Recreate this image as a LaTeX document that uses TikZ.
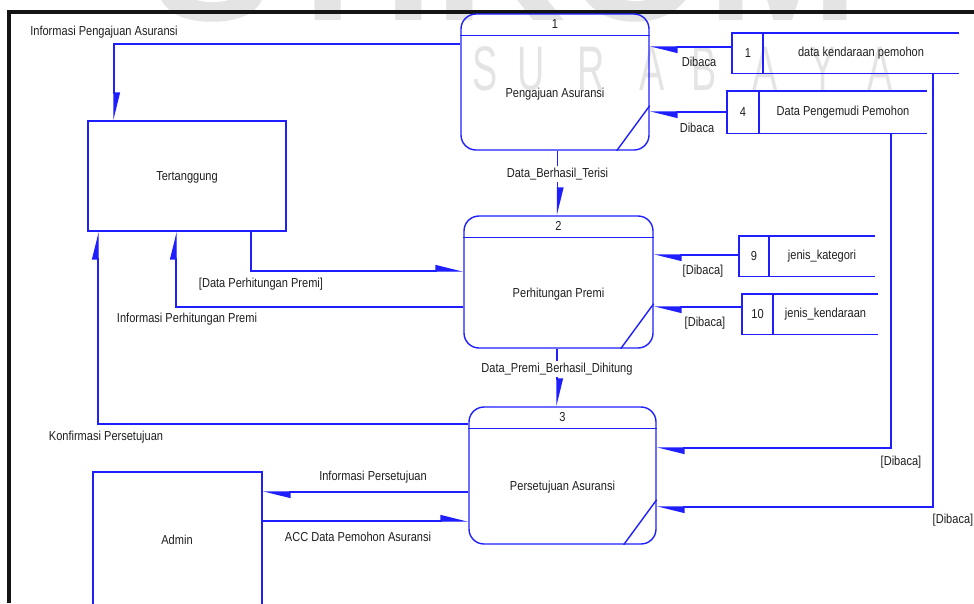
\documentclass[tikz,border=0pt]{standalone}
\usepackage{fontspec}
\setmainfont{Liberation Sans}[FakeStretch=0.85]
\newfontfamily\wmfont{Liberation Sans}
\newfontfamily\wmthin{Liberation Sans}[FakeStretch=0.6]
\usetikzlibrary{arrows.meta,calc}

\definecolor{dfdblue}{RGB}{30,30,255}
\definecolor{inktext}{RGB}{30,30,30}
\definecolor{wmgray}{RGB}{228,228,228}

\tikzset{
  edge/.style={draw=dfdblue, line width=1.4pt},
  flow/.style={edge, -{Triangle[harpoon, length=25pt, width=12pt]}},
  proc/.style={edge, rounded corners=15pt, inner sep=0pt},
  entity/.style={edge, inner sep=0pt},
  storebox/.style={inner sep=0pt},
  txt/.style={text=inktext, font=\fontsize{13}{15}\selectfont, inner sep=1pt},
  cut/.style={txt, fill=white, inner sep=2pt},
  wm/.style={text=wmgray, inner sep=0pt},
}

\begin{document}
\begin{tikzpicture}[x=1pt, y=-1pt]
\useasboundingbox (0,0) rectangle (974,603);

% watermark lettering in the background
\begin{scope}
  \clip (0,0) rectangle (974,603);
  \node[wm, anchor=base, font=\wmfont\bfseries\fontsize{182}{182}\selectfont] (wmtop) at (505,20) {STIKOM};
  \foreach \ch/\cx [count=\i] in {S/485, U/531, R/591, A/652, B/704, A/765, Y/823, A/880}
    \node[wm, anchor=base, font=\wmthin\fontsize{63}{63}\selectfont] (wm\i) at (\cx,90) {\ch};
\end{scope}

% frame
\draw[line width=4pt, black!92] (9,603) -- (9,12) -- (974,12);

% processes
\node[proc, minimum width=188pt, minimum height=136pt] (p1) at (555,82) {};
\node[proc, minimum width=189pt, minimum height=132pt] (p2) at (558.5,282) {};
\node[proc, minimum width=187pt, minimum height=137pt] (p3) at (562.5,475.5) {};
\foreach \p/\n/\t in {p1/1/Pengajuan Asuransi, p2/2/Perhitungan Premi, p3/3/Persetujuan Asuransi}{
  \draw[edge] ($(\p.north west)+(0,22)$) -- ($(\p.north east)+(0,22)$);
  \draw[edge] ($(\p.south east)+(-33,0)$) -- ($(\p.south east)+(0,-45)$);
  \node[txt] (\p num) at ($(\p.north)+(0,11)$) {\n};
  \node[txt] (\p name) at ($(\p.center)+(0,12)$) {\t};
}

% external entities
\node[entity, minimum width=198pt, minimum height=110pt] (tt) at (187,176) {};
\node[txt] (ttname) at (187,177) {Tertanggung};
\node[entity, minimum width=169pt, minimum height=136pt] (ad) at (177.5,540) {};
\node[txt] (adname) at (177,540) {Admin};

% data stores
\node[storebox, minimum width=227pt, minimum height=40pt] (s1) at (845.5,53) {};
\node[storebox, minimum width=200pt, minimum height=42pt] (s4) at (827,112) {};
\node[storebox, minimum width=136pt, minimum height=40pt] (s9) at (807,256) {};
\node[storebox, minimum width=136pt, minimum height=40pt] (s10) at (810,314) {};
\foreach \s/\d in {s1/763, s4/759, s9/769, s10/773}{
  \draw[edge] (\s.north east) -- (\s.north west) -- (\s.south west) -- (\s.south east);
  \draw[edge] (\s.north -| \d,0) -- (\s.south -| \d,0);
}
\node[txt] (s1num) at (748,53) {1};
\node[txt] (s1name) at (861,53) {data kendaraan pemohon};
\node[txt] (s4num) at (743,112) {4};
\node[txt] (s4name) at (843,112) {Data Pengemudi Pemohon};
\node[txt] (s9num) at (754,256) {9};
\node[txt] (s9name) at (822,256) {jenis\_kategori};
\node[txt] (s10num) at (757.5,314) {10};
\node[txt] (s10name) at (825.5,314) {jenis\_kendaraan};

% data flows
\draw[flow] (p1.west |- 0,44) -| (tt.north -| 114,0);
\draw[flow] (tt.south -| 251,0) |- (p2.west |- 0,271);
\draw[flow] (p2.west |- 0,307) -| (tt.south -| 176,0);
\draw[flow] (p3.west |- 0,424) -| (tt.south -| 98,0);
\draw[flow] (p3.west |- 0,492) -- (ad.east |- 0,492);
\draw[flow] (ad.east |- 0,521) -- (p3.west |- 0,521);
\draw[flow] (s1.west |- 0,47) -- (p1.east |- 0,47);
\draw[flow] (s4.west) -- (p1.east |- s4.west);
\draw[flow] (s9.west |- 0,255) -- (p2.east |- 0,255);
\draw[flow] (s10.west |- 0,307) -- (p2.east |- 0,307);
\draw[flow] (s4.south -| 891,0) |- (p3.east |- 0,448);
\draw[flow] (s1.south -| 933,0) |- (p3.east |- 0,507);
\draw[flow] (p1.south -| 557.5,0) -- (p2.north -| 557.5,0);
\draw[flow] (p2.south -| 557,0) -- (p3.north -| 557,0);

% flow labels
\node[txt] (l1) at (104,32) {Informasi Pengajuan Asuransi};
\node[txt] (l2) at (261,284) {[Data Perhitungan Premi]};
\node[txt] (l3) at (187,319) {Informasi Perhitungan Premi};
\node[txt] (l4) at (106,437) {Konfirmasi Persetujuan};
\node[txt] (l5) at (373,477) {Informasi Persetujuan};
\node[txt] (l6) at (358,537) {ACC Data Pemohon Asuransi};
\node[txt] (l7) at (699,62) {Dibaca};
\node[txt] (l8) at (697,128) {Dibaca};
\node[txt] (l9) at (703,271) {[Dibaca]};
\node[txt] (l10) at (705,323) {[Dibaca]};
\node[txt] (l11) at (901,462) {[Dibaca]};
\node[txt] (l12) at (953,520) {[Dibaca]};
\node[cut] (l13) at (557.5,174) {Data\_Berhasil\_Terisi};
\node[cut] (l14) at (557,369) {Data\_Premi\_Berhasil\_Dihitung};
\end{tikzpicture}
\end{document}
